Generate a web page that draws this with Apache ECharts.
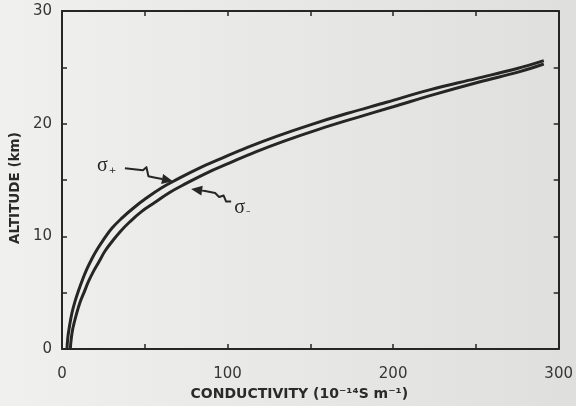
<!DOCTYPE html>
<html>
<head>
<meta charset="utf-8">
<script src="https://cdn.jsdelivr.net/npm/echarts@6/dist/echarts.min.js"></script>
<style>html,body{margin:0;padding:0;background:#e9e9e8;}#c{width:576px;height:406px;}</style>
</head>
<body>
<div id="c"></div>
<script>
// ---- data ----
const conductivityPlus = [3, 3.5, 4.5, 6, 8, 10, 12.5, 15, 18, 21, 25, 30, 36, 43, 51, 60, 70, 82, 96, 112, 130, 150, 172, 196, 222, 250, 275, 291];
const altitudePlus     = [0, 1, 2, 3.2, 4.3, 5.2, 6.2, 7.1, 8.0, 8.8, 9.7, 10.7, 11.6, 12.5, 13.4, 14.3, 15.1, 16.0, 16.9, 17.9, 18.9, 19.9, 20.9, 21.9, 23.0, 24.0, 24.9, 25.6];
const conductivityMinus = [5, 5.5, 6.5, 8.5, 11, 13.5, 16, 19, 22.5, 26, 30, 35, 41, 48, 56, 65, 75, 87, 101, 117, 135, 155, 177, 200, 225, 252, 276, 291];
const altitudeMinus     = [0, 0.8, 1.8, 3.0, 4.2, 5.1, 6.0, 6.9, 7.8, 8.7, 9.5, 10.4, 11.3, 12.2, 13.0, 13.9, 14.7, 15.6, 16.5, 17.5, 18.5, 19.5, 20.5, 21.5, 22.6, 23.7, 24.6, 25.3];
const xTickLabels = ['0', '100', '200', '300'];
const yTickLabels = ['0', '10', '20', '30'];
const seriesNames = ['σ+', 'σ−'];

const zip = (xs, ys) => xs.map((x, i) => [x, ys[i]]);
const ink = '#262626';
const tickFont = { fontFamily: 'DejaVu Sans', fontSize: 15, color: '#363636' };

const chart = echarts.init(document.getElementById('c'), null, { renderer: 'canvas' });
const baseTick = { show: true, inside: true, length: 5, lineStyle: { color: ink, width: 1.5 } };
const baseLine = { show: true, onZero: false, lineStyle: { color: ink, width: 2 } };

chart.setOption({
  animation: false,
  backgroundColor: 'transparent',
  grid: { left: 56, right: 17, top: 11, bottom: 53, containLabel: false },
  xAxis: [
    {
      type: 'value', min: 0, max: 300, interval: 50, position: 'bottom',
      axisLine: baseLine, axisTick: baseTick, splitLine: { show: false },
      axisLabel: Object.assign({ margin: 18, formatter: v => xTickLabels.includes(String(v)) ? String(v) : '' }, tickFont),
      name: 'CONDUCTIVITY (10⁻¹⁴S m⁻¹)', nameLocation: 'middle', nameGap: 36,
      nameTextStyle: { fontFamily: 'DejaVu Sans', fontWeight: 'bold', fontSize: 14, color: '#2a2a2a', padding: [0, 22, 0, 0] }
    },
    {
      type: 'value', min: 0, max: 300, interval: 50, position: 'top',
      axisLine: baseLine, axisTick: baseTick, axisLabel: { show: false }, splitLine: { show: false }
    }
  ],
  yAxis: [
    {
      type: 'value', min: 0, max: 30, interval: 5, position: 'left',
      axisLine: baseLine, axisTick: baseTick, splitLine: { show: false },
      axisLabel: Object.assign({ margin: 10, formatter: v => yTickLabels.includes(String(v)) ? String(v) : '' }, tickFont),
      name: 'ALTITUDE (km)', nameLocation: 'middle', nameGap: 40, nameRotate: 90,
      nameTextStyle: { fontFamily: 'DejaVu Sans', fontWeight: 'bold', fontSize: 13.5, color: '#2a2a2a', padding: [0, 16, 0, 0] }
    },
    {
      type: 'value', min: 0, max: 30, interval: 5, position: 'right',
      axisLine: baseLine, axisTick: baseTick, axisLabel: { show: false }, splitLine: { show: false }
    }
  ],
  series: [
    {
      name: seriesNames[0], type: 'line', data: zip(conductivityPlus, altitudePlus),
      showSymbol: false, smooth: 0.4, lineStyle: { color: ink, width: 3 }, z: 3
    },
    {
      name: seriesNames[1], type: 'line', data: zip(conductivityMinus, altitudeMinus),
      showSymbol: false, smooth: 0.4, lineStyle: { color: ink, width: 3 }, z: 3
    }
  ]
});

// ---- annotations: squiggly arrows anchored to points near the curves ----
function arrowHead(from, tip, len, half) {
  const dx = tip[0] - from[0], dy = tip[1] - from[1];
  const d = Math.hypot(dx, dy) || 1;
  const ux = dx / d, uy = dy / d;
  const bx = tip[0] - ux * len, by = tip[1] - uy * len;
  return [tip, [bx - uy * half, by + ux * half], [bx + uy * half, by - ux * half]];
}
function annotation(tipData, rel, labelOff, sub) {
  const t = chart.convertToPixel({ xAxisIndex: 0, yAxisIndex: 0 }, tipData);
  const pts = rel.map(p => [t[0] + p[0], t[1] + p[1]]);
  const head = arrowHead(pts[pts.length - 1], t, 11, 5);
  const shaft = pts.slice();
  shaft.push([(head[1][0] + head[2][0]) / 2, (head[1][1] + head[2][1]) / 2]);
  return [
    { type: 'polyline', shape: { points: shaft }, style: { stroke: ink, lineWidth: 2, fill: null, lineJoin: 'round' }, z: 10 },
    { type: 'polygon', shape: { points: head }, style: { fill: ink }, z: 10 },
    {
      type: 'text', x: t[0] + labelOff[0], y: t[1] + labelOff[1], z: 10,
      style: {
        text: '{s|σ}{b|' + sub + '}',
        rich: {
          s: { fontFamily: 'Liberation Serif', fontSize: 20, fill: ink },
          b: { fontFamily: 'DejaVu Sans', fontSize: 9, fill: ink, padding: [9, 0, 0, 1] }
        },
        verticalAlign: 'middle', align: 'left'
      }
    }
  ];
}

const tipPlus = [67, 14.9];
const tipMinus = [78, 14.2];
const g = [{ type: 'rect', shape: { x: 0, y: 0, width: 576, height: 406 }, style: { fill: new echarts.graphic.LinearGradient(0, 0, 1, 0, [{ offset: 0, color: '#f0f0ef' }, { offset: 1, color: '#dfdfde' }]) }, z: -10, silent: true }]
  .concat(annotation(tipPlus, [[-48, -13], [-30, -11], [-26.5, -14], [-24.5, -5], [-20, -4]], [-76, -15], '+'))
  .concat(annotation(tipMinus, [[40, 12.5], [35, 12.5], [32.5, 6.5], [28, 8], [24, 4], [14, 2]], [43, 18.5], '–'));
chart.setOption({ graphic: g });
</script>
</body>
</html>
